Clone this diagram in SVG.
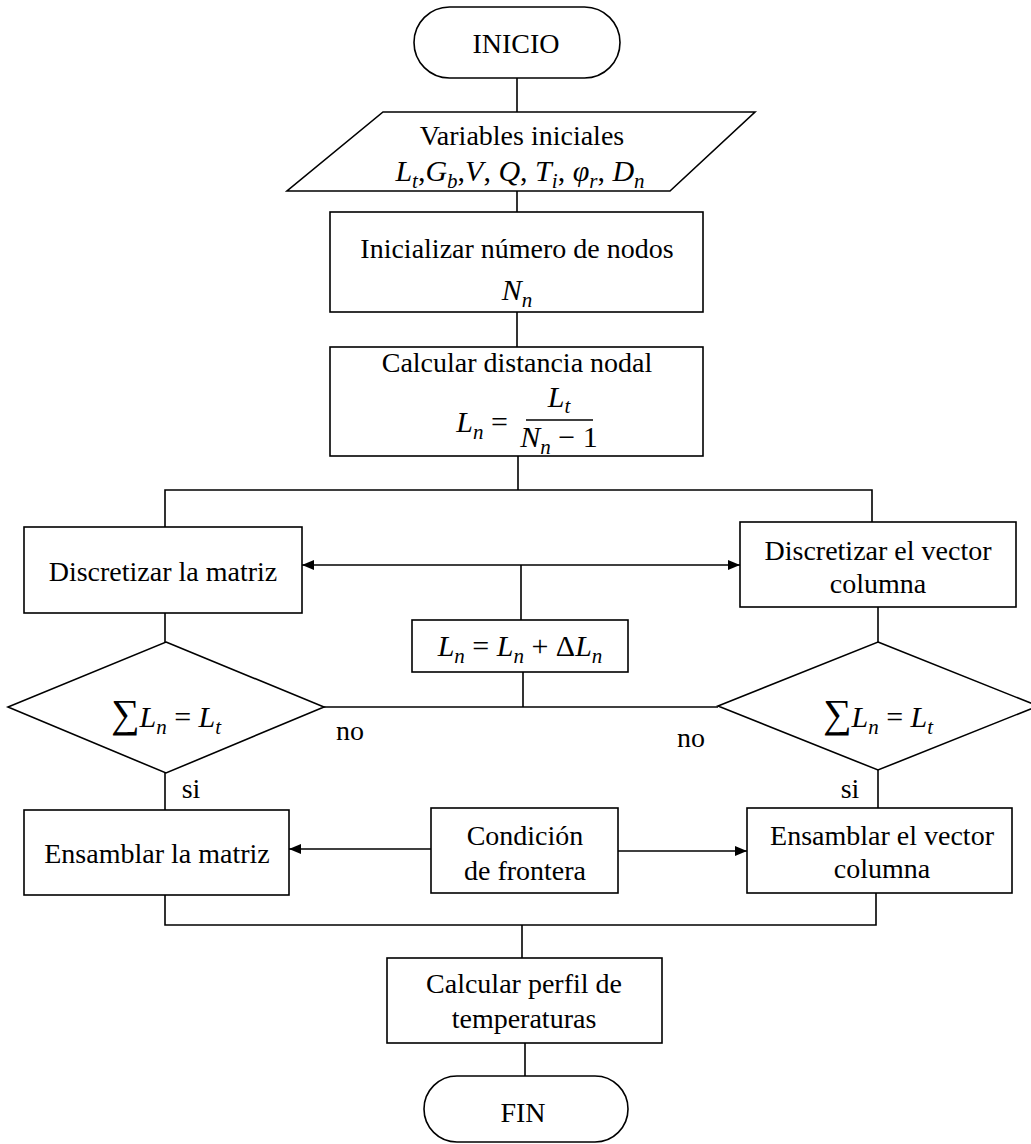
<svg xmlns="http://www.w3.org/2000/svg" width="1031" height="1144" viewBox="0 0 1031 1144">
<style>
.s{fill:#fff;stroke:#000;stroke-width:1.6}
.c{fill:none;stroke:#000;stroke-width:1.6}
.t{font-family:"Liberation Serif","Times New Roman",serif;font-size:28px;fill:#000;text-anchor:middle}
.m{font-family:"Liberation Serif","Times New Roman",serif;font-size:30px;font-style:italic;fill:#000;text-anchor:middle}
.u{font-style:normal}
.sb{font-size:21px}
.sg{font-style:normal;font-size:40px}
</style>
<defs>
<marker id="ah" viewBox="0 0 12 10" refX="12" refY="5" markerWidth="12" markerHeight="10" markerUnits="userSpaceOnUse" orient="auto-start-reverse">
<path d="M0,0 L12,5 L0,10 z" fill="#000"/>
</marker>
</defs>
<rect width="1031" height="1144" fill="#fff"/>
<g id="connectors">
<line class="c" x1="517" y1="78" x2="517" y2="112"/>
<line class="c" x1="517" y1="191" x2="517" y2="212"/>
<line class="c" x1="517" y1="312" x2="517" y2="347"/>
<polyline class="c" points="518,456 518,490"/>
<polyline class="c" points="165,527 165,490 872,490 872,522"/>
<line class="c" x1="302" y1="565" x2="740" y2="565" marker-start="url(#ah)" marker-end="url(#ah)"/>
<line class="c" x1="521" y1="565" x2="521" y2="620"/>
<line class="c" x1="523" y1="672" x2="523" y2="707"/>
<line class="c" x1="324" y1="707" x2="718" y2="707"/>
<line class="c" x1="165" y1="613" x2="165" y2="642"/>
<line class="c" x1="878" y1="607" x2="878" y2="642"/>
<line class="c" x1="165" y1="773" x2="165" y2="810"/>
<line class="c" x1="878" y1="770" x2="878" y2="808"/>
<line class="c" x1="431" y1="849" x2="289" y2="849" marker-end="url(#ah)"/>
<line class="c" x1="618" y1="851" x2="747" y2="851" marker-end="url(#ah)"/>
<polyline class="c" points="165,895 165,925 876,925 876,893"/>
<line class="c" x1="522" y1="925" x2="522" y2="958"/>
<line class="c" x1="525" y1="1043" x2="525" y2="1076"/>
</g>
<g id="inicio">
<rect class="s" x="414" y="7" width="206" height="71" rx="35.5"/>
<text class="t" x="516" y="53">INICIO</text>
</g>
<g id="variables">
<polygon class="s" points="383,112 755,112 670,191 287,191"/>
<text class="t" x="522" y="145">Variables  iniciales</text>
<text class="m" x="520" y="181">L<tspan class="sb" dy="7">t</tspan><tspan class="u" dy="-7">,</tspan>G<tspan class="sb" dy="7">b</tspan><tspan class="u" dy="-7">,</tspan>V<tspan class="u">, </tspan>Q<tspan class="u">, </tspan>T<tspan class="sb" dy="7">i</tspan><tspan class="u" dy="-7">, </tspan>φ<tspan class="sb" dy="7">r</tspan><tspan class="u" dy="-7">, </tspan>D<tspan class="sb" dy="7">n</tspan></text>
</g>
<g id="inicializar">
<rect class="s" x="330" y="212" width="373" height="100"/>
<text class="t" x="517" y="258">Inicializar  número  de nodos</text>
<text class="m" x="517" y="300">N<tspan class="sb" dy="7">n</tspan></text>
</g>
<g id="distancia">
<rect class="s" x="330" y="347" width="373" height="109"/>
<text class="t" x="517" y="372">Calcular  distancia  nodal</text>
<text class="m" x="482" y="432">L<tspan class="sb" dy="7">n</tspan><tspan class="u" dy="-7"> =</tspan></text>
<text class="m" x="559" y="407">L<tspan class="sb" dy="6">t</tspan></text>
<line class="c" x1="526" y1="420" x2="593" y2="420"/>
<text class="m" x="559" y="447">N<tspan class="sb" dy="7">n</tspan><tspan class="u" dy="-7"> − 1</tspan></text>
</g>
<g id="disc-matriz">
<rect class="s" x="24" y="527" width="278" height="86"/>
<text class="t" x="163" y="581">Discretizar  la matriz</text>
</g>
<g id="disc-vector">
<rect class="s" x="740" y="522" width="276" height="85"/>
<text class="t" x="878" y="560">Discretizar  el vector</text>
<text class="t" x="878" y="593">columna</text>
</g>
<g id="incremento">
<rect class="s" x="412" y="620" width="216" height="52"/>
<text class="m" x="520" y="656">L<tspan class="sb" dy="7">n</tspan><tspan class="u" dy="-7"> = </tspan>L<tspan class="sb" dy="7">n</tspan><tspan class="u" dy="-7"> + Δ</tspan>L<tspan class="sb" dy="7">n</tspan></text>
</g>
<g id="decision-izq">
<polygon class="s" points="166,642 324,707 166,773 8,707"/>
<text class="m" x="166" y="727"><tspan class="sg">∑</tspan>L<tspan class="sb" dy="7">n</tspan><tspan class="u" dy="-7"> = </tspan>L<tspan class="sb" dy="7">t</tspan></text>
</g>
<g id="decision-der">
<polygon class="s" points="878,642 1038,706 878,770 718,706"/>
<text class="m" x="878" y="727"><tspan class="sg">∑</tspan>L<tspan class="sb" dy="7">n</tspan><tspan class="u" dy="-7"> = </tspan>L<tspan class="sb" dy="7">t</tspan></text>
</g>
<g id="labels">
<text class="t" x="350" y="740">no</text>
<text class="t" x="691" y="747">no</text>
<text class="t" x="191" y="798">si</text>
<text class="t" x="850" y="798">si</text>
</g>
<g id="ens-matriz">
<rect class="s" x="24" y="810" width="265" height="85"/>
<text class="t" x="157" y="863">Ensamblar  la matriz</text>
</g>
<g id="frontera">
<rect class="s" x="431" y="808" width="187" height="85"/>
<text class="t" x="525" y="845">Condición</text>
<text class="t" x="525" y="880">de frontera</text>
</g>
<g id="ens-vector">
<rect class="s" x="747" y="808" width="265" height="85"/>
<text class="t" x="882" y="845">Ensamblar  el vector</text>
<text class="t" x="882" y="878">columna</text>
</g>
<g id="perfil">
<rect class="s" x="387" y="958" width="275" height="85"/>
<text class="t" x="524" y="993">Calcular  perfil  de</text>
<text class="t" x="524" y="1028">temperaturas</text>
</g>
<g id="fin">
<rect class="s" x="424" y="1076" width="204" height="66" rx="33"/>
<text class="t" x="523" y="1122">FIN</text>
</g>
</svg>
